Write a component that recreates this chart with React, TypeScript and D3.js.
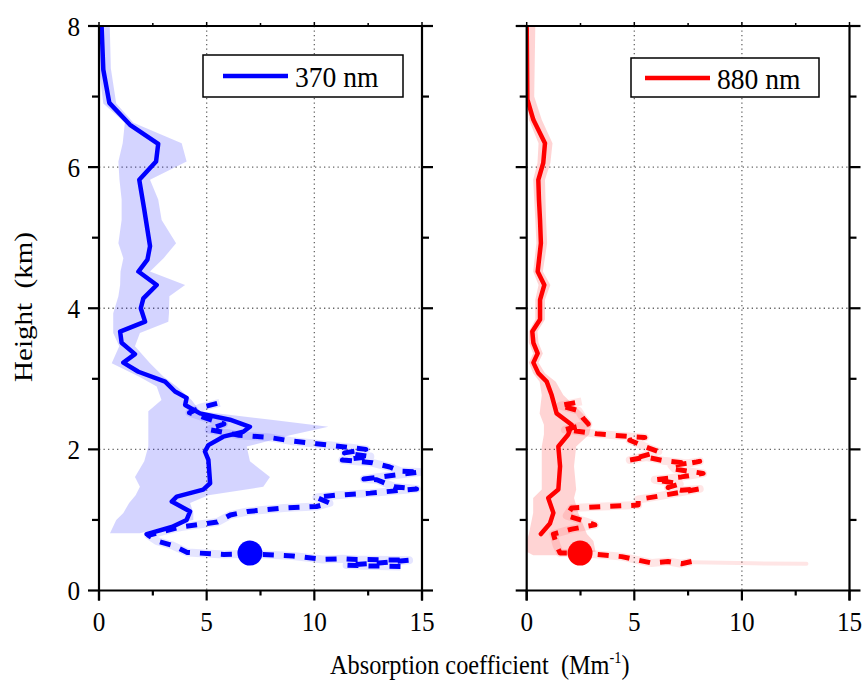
import React from "react";
import * as d3 from "d3";

// ---------- data ----------
const X_TICKS = [0, 5, 10, 15];
const X_MINOR = [2.5, 7.5, 12.5];
const Y_TICKS = [0, 2, 4, 6, 8];
const Y_MINOR = [1, 3, 5, 7];
const GRID_X = [5, 10];
const GRID_Y = [2, 4, 6];

// 370 nm mean profile [x, y]
const blueMean: [number, number][] = [
  [0.12, 8.0], [0.2, 7.38], [0.48, 6.91], [1.44, 6.6], [2.75, 6.33], [2.65, 6.08],
  [1.87, 5.82], [2.1, 5.4], [2.37, 4.88], [2.25, 4.69], [1.83, 4.52], [2.68, 4.33],
  [2.06, 4.14], [1.94, 4.0], [2.14, 3.81], [0.98, 3.67], [1.05, 3.51], [1.67, 3.35],
  [1.13, 3.23], [1.83, 3.1], [3.07, 2.96], [3.53, 2.82], [4.07, 2.73], [4.0, 2.63],
  [4.69, 2.51], [6.08, 2.42], [7.01, 2.32], [6.7, 2.25], [5.77, 2.18], [5.08, 2.06],
  [4.92, 1.97], [5.08, 1.85], [5.16, 1.52], [4.84, 1.43], [3.61, 1.33], [3.38, 1.26],
  [4.23, 1.12], [4.07, 1.0], [3.38, 0.9], [2.21, 0.8],
];
// 370 nm band [y, lo, hi]
const blueBand: [number, number, number][] = [
  [8.0, 0.0, 0.5], [7.4, 0.0, 0.55], [6.9, 0.2, 0.8], [6.63, 1.2, 1.6], [6.34, 1.1, 3.84],
  [6.08, 0.9, 4.07], [5.82, 0.95, 2.37], [5.54, 1.05, 2.75], [5.25, 1.05, 2.91],
  [4.92, 0.9, 3.58], [4.71, 1.13, 3.0], [4.52, 1.0, 2.37], [4.33, 0.98, 4.0],
  [4.17, 0.9, 3.27], [3.93, 0.66, 3.25], [3.81, 0.66, 3.22], [3.65, 0.66, 1.9],
  [3.46, 0.94, 1.67], [3.22, 0.59, 2.37], [3.03, 1.87, 3.0], [2.89, 2.68, 3.61],
  [2.7, 2.9, 4.3], [2.54, 2.29, 4.69], [2.42, 2.29, 8.0], [2.32, 2.29, 10.65],
  [2.2, 2.29, 8.87], [2.04, 2.29, 6.86], [1.83, 2.1, 7.01], [1.61, 1.67, 7.94],
  [1.47, 1.9, 7.63], [1.35, 1.7, 5.08], [1.24, 1.4, 4.23], [1.1, 1.13, 4.38],
  [1.0, 0.8, 4.38], [0.81, 0.51, 1.9],
];
// 370 nm raw trace [x, y]
const blueRaw: [number, number][] = [
  [14.0, 0.34], [12.3, 0.35], [11.5, 0.36], [13.0, 0.39], [14.4, 0.43], [12.0, 0.44],
  [11.3, 0.45], [10.4, 0.44], [9.0, 0.49], [7.0, 0.52], [5.8, 0.51], [4.1, 0.54],
  [3.4, 0.64], [2.7, 0.7], [2.3, 0.78], [3.0, 0.84], [3.8, 0.9], [5.5, 0.97],
  [6.1, 1.07], [6.9, 1.12], [8.6, 1.17], [10.1, 1.19], [10.7, 1.24], [10.1, 1.32],
  [11.0, 1.35], [12.6, 1.38], [14.75, 1.44], [13.7, 1.47], [12.9, 1.57], [12.3, 1.58],
  [14.9, 1.68], [14.0, 1.69], [13.5, 1.75], [12.7, 1.81], [11.3, 1.85], [12.6, 1.9],
  [11.4, 1.95], [12.4, 2.0], [10.1, 2.08], [8.9, 2.12], [7.9, 2.17], [6.5, 2.2],
  [5.1, 2.28], [5.8, 2.36], [4.2, 2.52], [4.7, 2.59], [5.6, 2.66],
];
const blueDot: [number, number] = [7.01, 0.53];

// 880 nm mean profile
const redMean: [number, number][] = [
  [0.0, 8.0], [0.03, 6.96], [0.31, 6.67], [0.85, 6.34], [0.77, 6.06], [0.54, 5.82],
  [0.57, 5.54], [0.62, 5.25], [0.66, 4.92], [0.51, 4.52], [0.82, 4.33], [0.62, 4.12],
  [0.62, 3.84], [0.26, 3.67], [0.31, 3.51], [0.51, 3.36], [0.31, 3.23], [0.54, 3.08],
  [0.93, 2.96], [1.16, 2.77], [1.39, 2.51], [2.09, 2.35], [1.93, 2.21], [1.47, 2.04],
  [1.55, 1.76], [1.47, 1.43], [1.0, 1.31], [1.24, 1.1], [1.08, 0.95], [0.66, 0.8],
];
const redBand: [number, number, number][] = [
  [8.0, 0.0, 0.4], [7.0, 0.0, 0.35], [6.67, 0.1, 0.7], [6.34, 0.55, 1.2], [6.06, 0.5, 1.1],
  [5.82, 0.3, 0.85], [5.25, 0.4, 0.9], [4.92, 0.45, 0.95], [4.52, 0.3, 0.75],
  [4.33, 0.55, 1.1], [4.12, 0.4, 0.85], [3.84, 0.4, 0.85], [3.67, 0.1, 0.5],
  [3.51, 0.1, 0.55], [3.36, 0.3, 0.75], [3.23, 0.1, 0.55], [3.08, 0.3, 0.85],
  [2.96, 0.6, 1.35], [2.77, 0.7, 1.7], [2.51, 0.6, 2.6], [2.35, 0.8, 3.0],
  [2.21, 0.8, 2.9], [2.04, 0.7, 2.3], [1.76, 0.7, 2.2], [1.43, 0.7, 2.3],
  [1.31, 0.3, 2.2], [1.1, 0.3, 2.4], [0.95, 0.2, 2.6], [0.8, 0.1, 2.8],
  [0.7, 0.0, 3.1], [0.55, 0.0, 3.2], [0.5, 0.3, 2.0],
];
const redRaw: [number, number][] = [
  [7.66, 0.41], [7.19, 0.38], [6.57, 0.41], [5.8, 0.39], [5.18, 0.43], [4.41, 0.48],
  [2.5, 0.53], [1.55, 0.53], [1.39, 0.64], [1.24, 0.8], [2.09, 0.87], [3.17, 0.93],
  [2.71, 0.98], [1.86, 1.06], [2.09, 1.17], [3.55, 1.19], [5.18, 1.21], [5.18, 1.29],
  [6.19, 1.34], [8.04, 1.44], [7.19, 1.42], [6.57, 1.46], [7.11, 1.51], [5.95, 1.57],
  [7.19, 1.61], [8.2, 1.66], [6.88, 1.72], [6.73, 1.77], [8.04, 1.83], [7.5, 1.8],
  [6.34, 1.84], [5.57, 1.89], [4.79, 1.85], [6.11, 1.97], [5.57, 2.03], [4.79, 2.13],
  [5.49, 2.17], [4.87, 2.18], [3.25, 2.22], [1.78, 2.28], [2.86, 2.36], [2.63, 2.44],
  [2.4, 2.55], [1.55, 2.62], [2.55, 2.68],
];
// faint spread wisps of the 880 nm raw trace near the ground [x, y]
const redWisp: [number, number][] = [[7.7, 0.40], [10.5, 0.385], [13.0, 0.38]];
const redDot: [number, number] = [2.48, 0.53];

const FONT = "'Liberation Serif', 'Times New Roman', serif";

function SText(props: { x: number; y: number; size: number; anchor?: string; sx?: number; children: any }) {
  const { x, y, size, anchor = "start", sx = 0.9, children } = props;
  return (
    <text
      transform={`translate(${x},${y}) scale(${sx},1)`}
      textAnchor={anchor}
      fontFamily={FONT}
      fontSize={size}
      fill="#000"
    >
      {children}
    </text>
  );
}

function Panel(props: {
  x0: number; x1: number; color: string;
  mean: [number, number][]; band: [number, number, number][]; raw: [number, number][];
  wisp?: [number, number][];
  dot: [number, number]; showYLabels: boolean;
  legend: { x: number; y: number; w: number; h: number; label: string; lx0: number; lx1: number; tx: number; ty: number; ly: number };
}) {
  const { x0, x1, color, mean, band, raw, wisp, dot, showYLabels, legend } = props;
  const x = d3.scaleLinear().domain([0, 15]).range([x0, x1]);
  const y = d3.scaleLinear().domain([0, 8]).range([590.5, 26]);
  const line = d3.line<[number, number]>().x((d) => x(d[0])).y((d) => y(d[1]));
  const area = d3
    .area<[number, number, number]>()
    .y((d) => y(d[0]))
    .x0((d) => x(d[1]))
    .x1((d) => x(d[2]));
  const top = y(8), bot = y(0);
  const clipId = `clip-${color.replace("#", "")}`;
  return (
    <g>
      <defs>
        <clipPath id={clipId}>
          <rect x={x0} y={top} width={x1 - x0} height={bot - top} />
        </clipPath>
      </defs>
      {/* grid */}
      {GRID_X.map((v) => (
        <line key={"gx" + v} x1={x(v)} x2={x(v)} y1={top} y2={bot} stroke="#666" strokeWidth={1.3} strokeDasharray="1.3,3.2" />
      ))}
      {GRID_Y.map((v) => (
        <line key={"gy" + v} x1={x0} x2={x1} y1={y(v)} y2={y(v)} stroke="#666" strokeWidth={1.3} strokeDasharray="1.3,3.2" />
      ))}
      <g clipPath={`url(#${clipId})`}>
        <path d={area(band) || ""} fill={color} fillOpacity={0.17} stroke="none" />
        <path d={line(raw) || ""} fill="none" stroke={color} strokeOpacity={0.1} strokeWidth={8} strokeLinejoin="round" />
        {wisp && <path d={line(wisp) || ""} fill="none" stroke={color} strokeOpacity={0.1} strokeWidth={4} strokeLinecap="round" />}
        <path d={line(raw) || ""} fill="none" stroke={color} strokeWidth={5} strokeDasharray="11,10" strokeLinejoin="round" />
        <path d={line(mean) || ""} fill="none" stroke={color} strokeWidth={4.5} strokeLinejoin="round" strokeLinecap="round" />
        <circle cx={x(dot[0])} cy={y(dot[1])} r={12.5} fill={color} />
      </g>
      {/* frame */}
      <line x1={x0} x2={x0} y1={top} y2={bot + 10} stroke="#000" strokeWidth={2.2} />
      <line x1={x1} x2={x1} y1={top} y2={bot + 10} stroke="#000" strokeWidth={2.2} />
      <line x1={x0 - 1} x2={x1 + 1} y1={bot} y2={bot} stroke="#000" strokeWidth={2.2} />
      <line x1={x0 - 1} x2={x1 + 1} y1={top} y2={top} stroke="#000" strokeWidth={2.2} />
      {/* x ticks */}
      {X_TICKS.map((v) => (
        <g key={"xt" + v}>
          <line x1={x(v)} x2={x(v)} y1={bot} y2={bot + 10} stroke="#000" strokeWidth={2.2} />
          <line x1={x(v)} x2={x(v)} y1={top} y2={top - 4} stroke="#000" strokeWidth={1.5} />
          <SText x={x(v)} y={631} size={28} anchor="middle">{String(v)}</SText>
        </g>
      ))}
      {X_MINOR.map((v) => (
        <g key={"xm" + v}>
          <line x1={x(v)} x2={x(v)} y1={bot} y2={bot + 5} stroke="#000" strokeWidth={2.2} />
          <line x1={x(v)} x2={x(v)} y1={top} y2={top - 3} stroke="#000" strokeWidth={1.5} />
        </g>
      ))}
      {/* y ticks */}
      {Y_TICKS.map((v) => (
        <g key={"yt" + v}>
          <line x1={x0 - 11} x2={x0} y1={y(v)} y2={y(v)} stroke="#000" strokeWidth={2.2} />
          <line x1={x1} x2={x1 + 11} y1={y(v)} y2={y(v)} stroke="#000" strokeWidth={2.2} />
          {showYLabels && (
            <SText x={80} y={y(v) + 9.5} size={28} anchor="end">{String(v)}</SText>
          )}
        </g>
      ))}
      {Y_MINOR.map((v) => (
        <g key={"ym" + v}>
          <line x1={x0 - 7} x2={x0} y1={y(v)} y2={y(v)} stroke="#000" strokeWidth={2.2} />
          <line x1={x1} x2={x1 + 7} y1={y(v)} y2={y(v)} stroke="#000" strokeWidth={2.2} />
        </g>
      ))}
      {/* legend */}
      <rect x={legend.x} y={legend.y} width={legend.w} height={legend.h} fill="#fff" stroke="#000" strokeWidth={1.5} />
      <line x1={legend.lx0} x2={legend.lx1} y1={legend.ly} y2={legend.ly} stroke={color} strokeWidth={4.5} />
      <SText x={legend.tx} y={legend.ty} size={30} sx={0.92}>{legend.label}</SText>
    </g>
  );
}

export default function App() {
  return (
    <svg width={866} height={682} style={{ position: "absolute", left: 0, top: 0, background: "#fff" }}>
      <rect width={866} height={682} fill="#fff" />
      <Panel
        x0={99} x1={422} color="#0000ff" mean={blueMean} band={blueBand} raw={blueRaw} dot={blueDot}
        showYLabels={true}
        legend={{ x: 203, y: 55, w: 200, h: 42, label: "370 nm", lx0: 223, lx1: 288, tx: 295, ty: 86.5, ly: 76 }}
      />
      <Panel
        x0={526.7} x1={849.5} color="#ff0000" mean={redMean} band={redBand} raw={redRaw} wisp={redWisp} dot={redDot}
        showYLabels={false}
        legend={{ x: 631, y: 58, w: 188, h: 39, label: "880 nm", lx0: 645, lx1: 710, tx: 717, ty: 88.5, ly: 78 }}
      />
      <text transform="translate(32,307) scale(0.9,1) rotate(-90)" textAnchor="middle" fontFamily={FONT} fontSize={29} fill="#000">
        {"Height\u00a0\u00a0(km)"}
      </text>
      <text transform="translate(330,674) scale(0.9,1)" textAnchor="start" fontFamily={FONT} fontSize={27} fill="#000">
        {"Absorption coefficient\u00a0\u00a0(Mm"}
        <tspan fontSize={16} dy={-11}>-1</tspan>
        <tspan dy={11}>)</tspan>
      </text>
    </svg>
  );
}
